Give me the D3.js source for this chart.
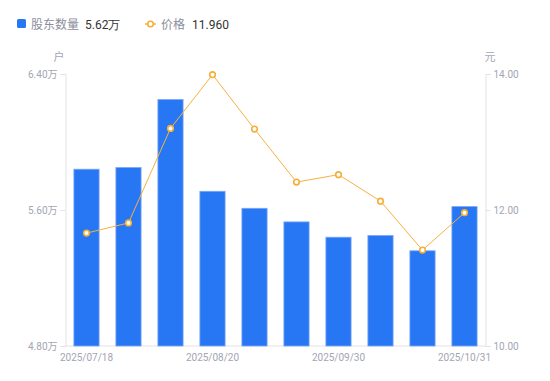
<!DOCTYPE html>
<html><head><meta charset="utf-8">
<script src="https://cdn.jsdelivr.net/npm/d3@7/dist/d3.min.js"></script>
<style>body{margin:0;background:#fff;}svg{display:block;font-family:"Noto Sans CJK SC","Noto Sans",sans-serif;}</style>
</head><body><svg id="c" width="550" height="381"></svg>
<script>
const categories = ["2025/07/18","2025/07/31","2025/08/10","2025/08/20","2025/08/31","2025/09/19","2025/09/30","2025/10/10","2025/10/20","2025/10/31"];
const holders = [5.84,5.85,6.25,5.71,5.61,5.53,5.44,5.45,5.36,5.62];
const prices = [11.66,11.81,13.20,13.99,13.19,12.41,12.52,12.13,11.41,11.96];
const leftTicks = [4.8,5.6,6.4];
const rightTicks = [10,12,14];
const shownLabels = ["2025/07/18","2025/08/20","2025/09/30","2025/10/31"];

const svg = d3.select("#c");
const L=65.5, R=485.5, T=74, B=346;
const x = d3.scaleBand().domain(categories).range([L,R]).paddingInner(0.4).paddingOuter(0.2);
const xc = d => x(d)+x.bandwidth()/2;
const yL = d3.scaleLinear().domain([4.8,6.4]).range([B,T]);
const yR = d3.scaleLinear().domain([10,14]).range([B,T]);
const grey="#a3a5b3", axisCol="#e3e3e6";

const gl = svg.append("g").attr("transform",`translate(${L},0)`)
  .call(d3.axisLeft(yL).tickValues(leftTicks).tickSize(5).tickPadding(3).tickFormat(d=>d3.format(".2f")(d)+"万"));
const gr = svg.append("g").attr("transform",`translate(${R},0)`)
  .call(d3.axisRight(yR).tickValues(rightTicks).tickSize(5).tickPadding(3).tickFormat(d3.format(".2f")));
[gl,gr].forEach(g=>{
  g.select(".domain").attr("stroke",axisCol);
  g.selectAll(".tick line").attr("stroke",axisCol);
  g.selectAll(".tick text").attr("fill",grey).style("font-size","10px").style("font-family","Roboto, 'Noto Sans CJK SC', sans-serif");
});
const gb = svg.append("g").attr("transform",`translate(0,${B})`)
  .call(d3.axisBottom(x).tickSize(0).tickPadding(8).tickFormat(d=>shownLabels.includes(d)?d:""));
gb.select(".domain").attr("stroke",axisCol).attr("d",`M${L},0H${R}`);
gb.selectAll(".tick text").attr("fill",grey).style("font-size","10px").style("font-family","Roboto, sans-serif");

svg.append("text").attr("x",59).attr("y",61).attr("text-anchor","middle").attr("fill",grey).style("font-size","11px").text("户");
svg.append("text").attr("x",490).attr("y",61).attr("text-anchor","middle").attr("fill",grey).style("font-size","11px").text("元");

svg.append("g").selectAll("rect").data(categories).join("rect")
  .attr("x",d=>x(d)).attr("width",x.bandwidth())
  .attr("y",(d,i)=>yL(holders[i])).attr("height",(d,i)=>B-yL(holders[i]))
  .attr("fill","#2777f4").attr("stroke","#7aa8f6").attr("stroke-width",0.8);

const line = d3.line().x((d,i)=>xc(categories[i])).y(d=>yR(d));
svg.append("path").datum(prices).attr("d",line).attr("fill","none").attr("stroke","#f7b13e").attr("stroke-width",1);
svg.append("g").selectAll("circle").data(prices).join("circle")
  .attr("cx",(d,i)=>xc(categories[i])).attr("cy",d=>yR(d)).attr("r",2.8)
  .attr("fill","#fff").attr("stroke","#f7ae38").attr("stroke-width",1.6);

const lg = svg.append("g").style("font-size","12px");
lg.append("rect").attr("x",17).attr("y",19).attr("width",9).attr("height",9).attr("rx",1.5).attr("fill","#2777f4");
lg.append("text").attr("x",31).attr("y",28.5).attr("fill","#8c8e9c").text("股东数量");
lg.append("text").attr("x",85).attr("y",28.5).attr("fill","#333").style("font-family","Roboto, sans-serif").text(d3.format(".2f")(holders[holders.length-1])+"万");
lg.append("line").attr("x1",145).attr("x2",156).attr("y1",24).attr("y2",24).attr("stroke","#f7b13e").attr("stroke-width",1.5);
lg.append("circle").attr("cx",150.5).attr("cy",24).attr("r",2.8).attr("fill","#fff").attr("stroke","#f7ae38").attr("stroke-width",1.6);
lg.append("text").attr("x",161).attr("y",28.5).attr("fill","#8c8e9c").text("价格");
lg.append("text").attr("x",192).attr("y",28.5).attr("fill","#333").style("font-family","Roboto, sans-serif").text(d3.format(".3f")(prices[prices.length-1]));
</script></body></html>
